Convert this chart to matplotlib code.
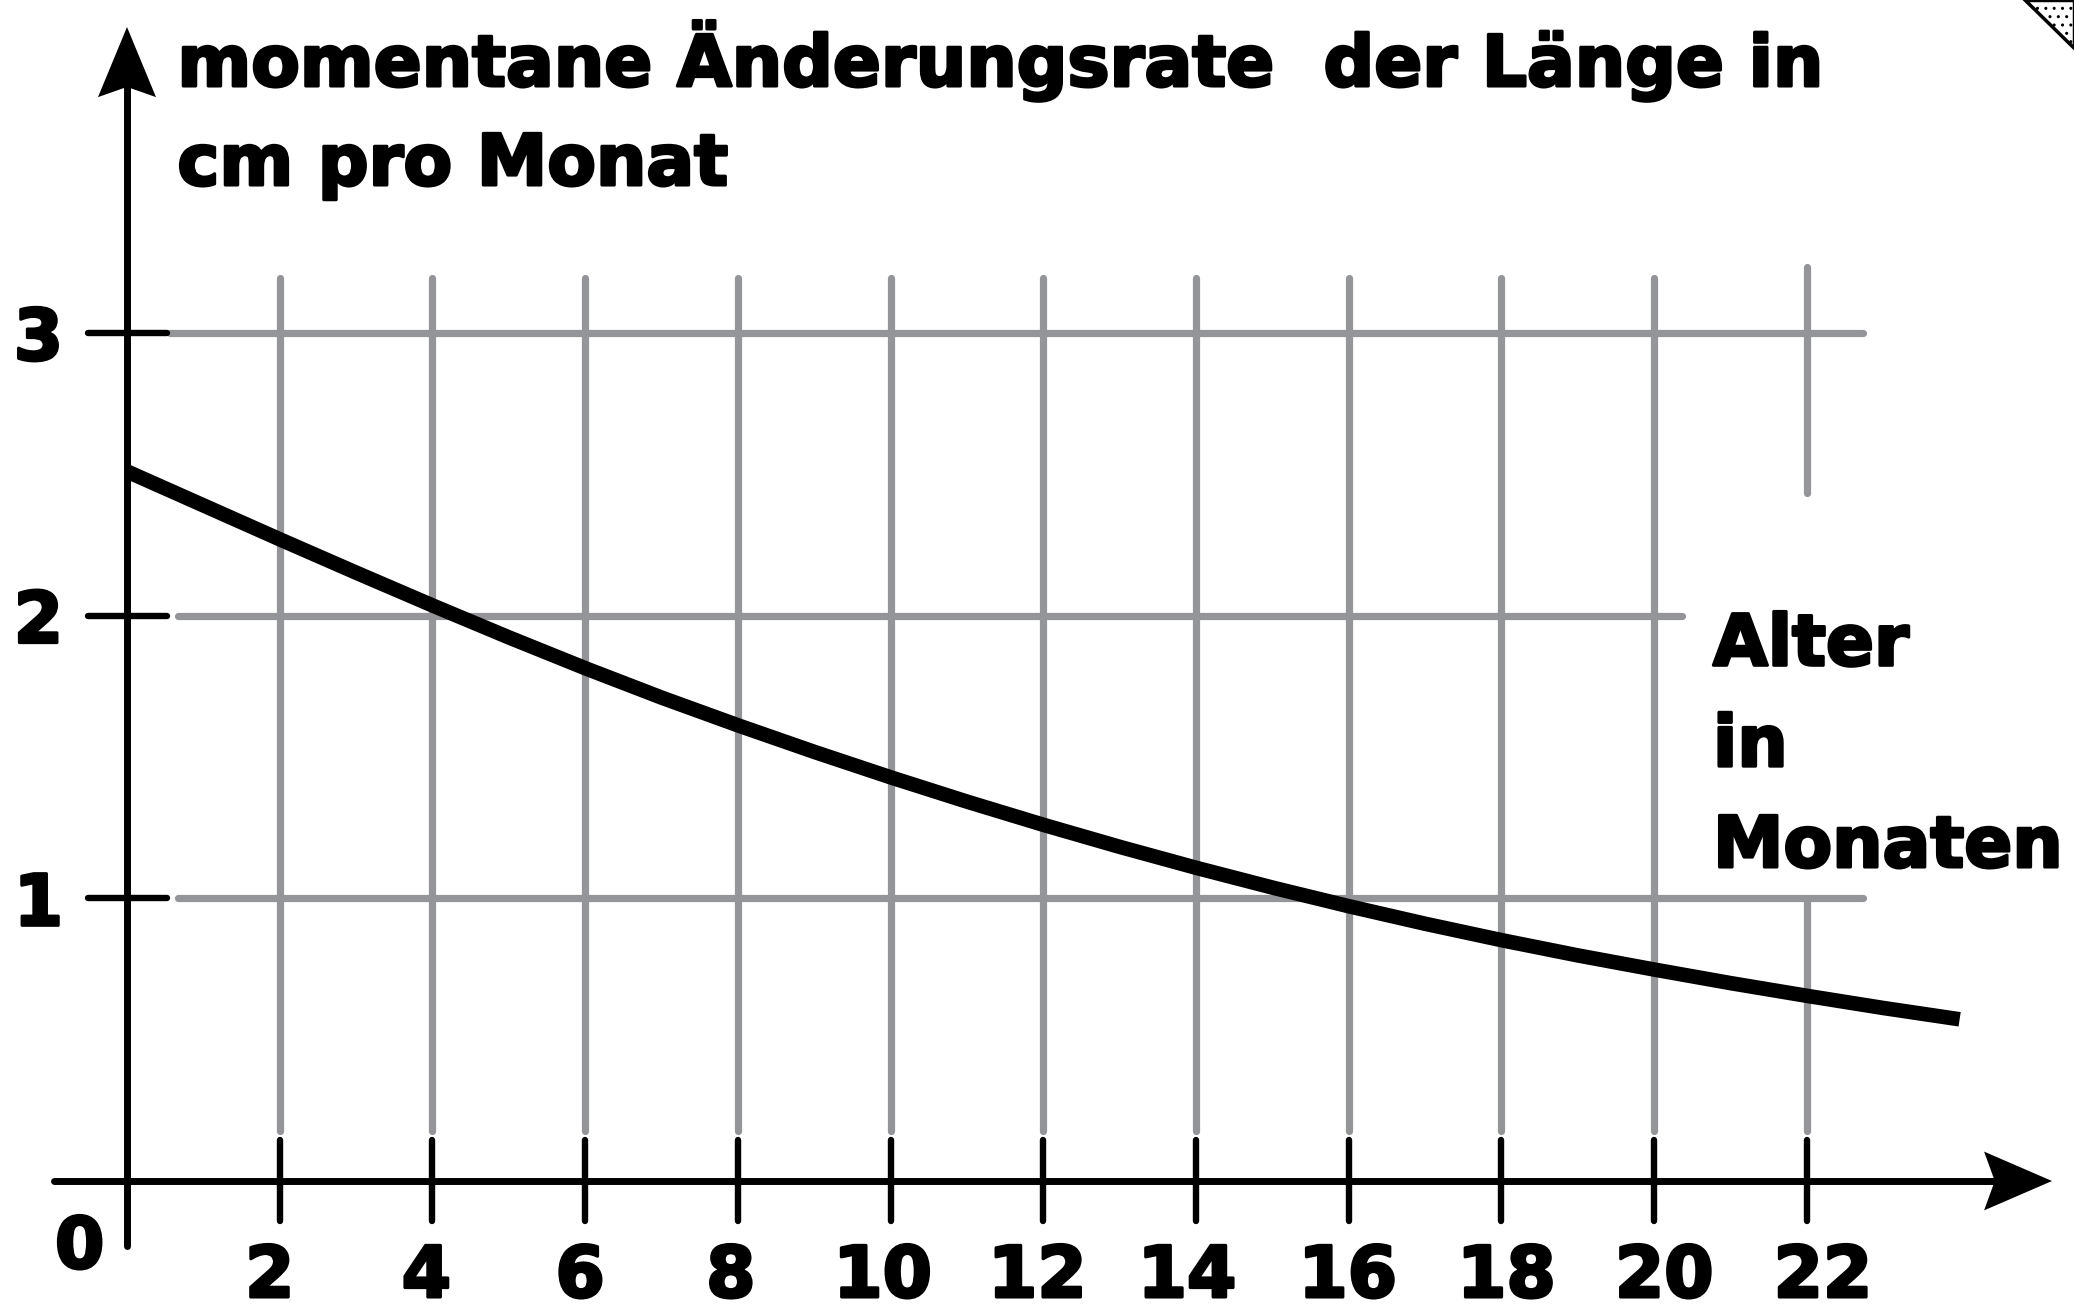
import matplotlib

matplotlib.use("Agg")
import matplotlib.pyplot as plt
import matplotlib.patheffects as pe
from matplotlib.patches import Polygon

# growth rate of body length (cm per month) against age in months
months = list(range(0, 25))
rate = [2.51, 2.39, 2.27, 2.152, 2.036, 1.923, 1.814, 1.71, 1.612, 1.518,
        1.428, 1.342, 1.26, 1.182, 1.108, 1.038, 0.972, 0.91, 0.852, 0.798,
        0.748, 0.70, 0.655, 0.612, 0.572]

x_ticks = [2, 4, 6, 8, 10, 12, 14, 16, 18, 20, 22]
y_ticks = [1, 2, 3]

title_lines = ["momentane Änderungsrate  der Länge in", "cm pro Monat"]
x_title = "Alter\nin\nMonaten"

# canvas geometry (pixels) and scale of the coordinate system
W, H = 2074, 1305
X0_PX, Y0_PX = 127, 1181          # origin, measured from the top left
PX_MONTH, PX_UNIT = 76.36, 282.7

# hand placement of the month labels relative to their tick (pixels)
LABEL_SHIFT = [-10, -6, -5, -7, -8, -6, -9, -1, 5, 10, 16]

GRID = "#939598"
FONT = ["DejaVu Sans"]
FS = 51


def y_of(px):
    # pixel row (from the top) -> y value
    return (Y0_PX - px) / PX_UNIT


fig = plt.figure(figsize=(W / 100, H / 100), dpi=100)
ax = fig.add_axes([0, 0, 1, 1])
ax.set_xlim(-X0_PX / PX_MONTH, (W - X0_PX) / PX_MONTH)
ax.set_ylim(-(H - Y0_PX) / PX_UNIT, Y0_PX / PX_UNIT)
ax.axis("off")

grid_kw = dict(color=GRID, lw=5.2, solid_capstyle="round", zorder=1)
for x in x_ticks[:-1]:
    ax.plot([x, x], [0.177, 3.194], **grid_kw)
# the last column is interrupted where the axis caption sits
ax.plot([22, 22], [2.434, 3.233], **grid_kw)
ax.plot([22, 22], [0.177, 1.0], **grid_kw)
ax.plot([0.56, 22.73], [3, 3], **grid_kw)
ax.plot([0.67, 20.36], [2, 2], **grid_kw)
ax.plot([0.67, 22.73], [1, 1], **grid_kw)

# axes with arrow heads
axis_kw = dict(color="black", lw=5.0, solid_capstyle="round", zorder=3)
ax.plot([-0.96, 24.5], [0, 0], **axis_kw)
ax.plot([0, 0], [-0.23, 3.9], **axis_kw)
ax.add_patch(Polygon([(25.21, 0), (24.32, 0.104), (24.46, 0), (24.32, -0.104)],
                     closed=True, color="black", lw=0, zorder=4))
ax.add_patch(Polygon([(0, 4.082), (-0.38, 3.834), (0, 3.87), (0.38, 3.834)],
                     closed=True, color="black", lw=0, zorder=4))

for x in x_ticks:
    ax.plot([x, x], [-0.141, 0.145], color="black", lw=4.6, solid_capstyle="round", zorder=3)
for y in y_ticks:
    ax.plot([-0.51, 0.52], [y, y], color="black", lw=4.6, solid_capstyle="round", zorder=3)

ax.plot(months, rate, color="black", lw=10.5, solid_capstyle="butt",
        solid_joinstyle="round", zorder=5)

heavy = [pe.withStroke(linewidth=2.2, foreground="black")]
txt_kw = dict(family=FONT, fontsize=FS, fontweight="bold", color="black",
              path_effects=heavy)
cap = 54 / PX_UNIT  # cap height in y units
for y in y_ticks:
    ax.text(-1.16, y - cap / 2, str(y), ha="center", va="baseline", **txt_kw)
for x, shift in zip(x_ticks, LABEL_SHIFT):
    ax.text(x + shift / PX_MONTH, y_of(1297), str(x), ha="center", va="baseline", **txt_kw)
ax.text(-0.62, y_of(1268), "0", ha="center", va="baseline", **txt_kw)

ax.text(0.66, y_of(86), title_lines[0], ha="left", va="baseline", **txt_kw)
ax.text(0.66, y_of(185), title_lines[1], ha="left", va="baseline", **txt_kw)
ax.text(20.77, y_of(867), x_title, ha="left", va="baseline",
        linespacing=1.59, **txt_kw)

# dotted page corner
corner = Polygon([(2025 / W, 1), (1, 1), (1, 1 - 48 / H)], closed=True,
                 transform=fig.transFigure, facecolor="white", edgecolor="black",
                 hatch="..", lw=2.5)
fig.patches.append(corner)

fig.savefig("out.png", dpi=100)
